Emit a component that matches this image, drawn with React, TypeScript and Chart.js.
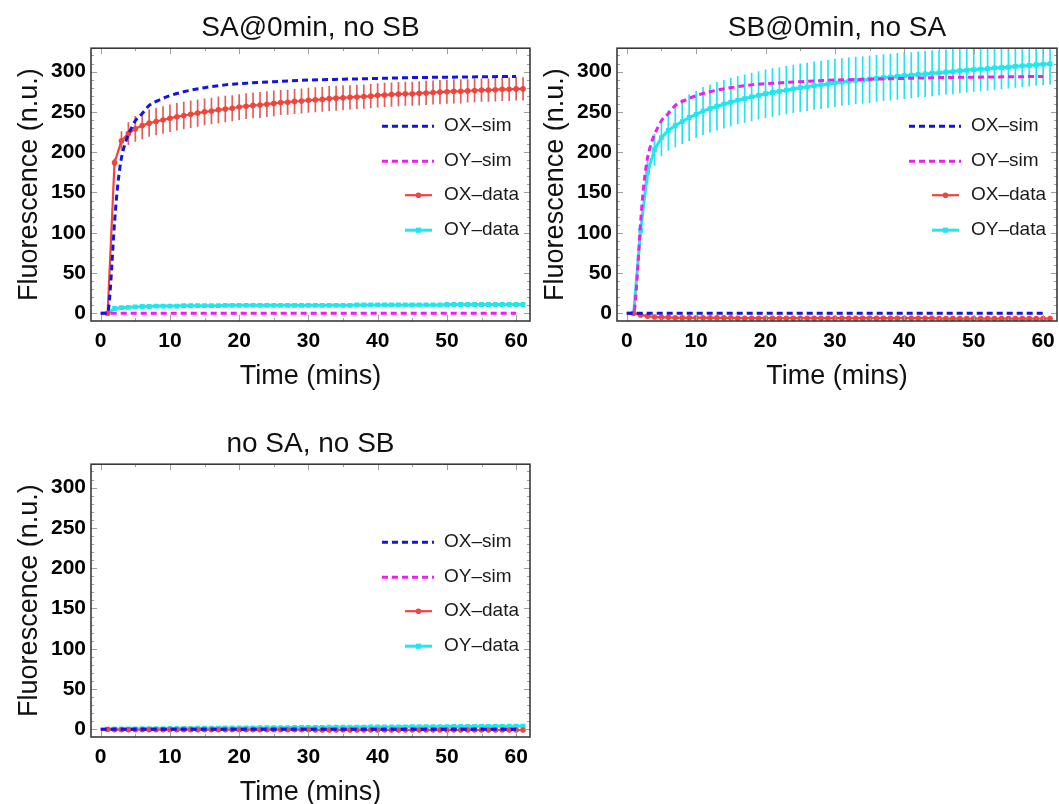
import React, { useEffect, useRef } from "react";
import { Chart, registerables } from "chart.js";

Chart.register(...registerables);

const FONT = "'Liberation Sans', Arial, Helvetica, sans-serif";

// ---------------- data ----------------
const timeData = [
  1, 2, 3, 4, 5, 6, 7, 8, 9, 10, 11, 12, 13, 14, 15, 16, 17, 18, 19, 20,
  21, 22, 23, 24, 25, 26, 27, 28, 29, 30, 31, 32, 33, 34, 35, 36, 37, 38, 39, 40,
  41, 42, 43, 44, 45, 46, 47, 48, 49, 50, 51, 52, 53, 54, 55, 56, 57, 58, 59, 60, 61,
];

const simRiseTime = [0, 1, 1.3, 1.6, 2, 2.5, 3, 3.5, 4, 4.5, 5, 6, 7, 8, 10, 12, 15, 18, 21, 25, 30, 35, 40, 45, 50, 55, 60];
const simRise = [0, 0, 20, 58, 113, 162, 193, 210, 222, 231, 239, 248, 258, 263, 270, 275, 280, 283.5, 285.5, 287.5, 289.5, 290.5, 291.5, 292.5, 293, 293.5, 294];
const simFlatTime = [0, 60];
const simFlat = [0, 0];

// Panel 1: SA@0min, no SB
const p1OX = [
  0, 187, 214, 223, 229, 233, 236, 238, 240, 242,
  244, 245.5, 247, 248.5, 250, 251, 252.5, 253.5, 254.5, 256,
  257, 258, 258.5, 259.5, 260.5, 261.5, 262, 263, 263.5, 264.5,
  265, 265.5, 266.5, 267, 267.5, 268, 268.5, 269, 269.5, 270.5,
  271, 271.5, 272, 272.5, 272.5, 273, 273.5, 274, 274.5, 275,
  275.5, 275.5, 276, 276.5, 277, 277, 277.5, 278, 278, 278.5,
  278.5,
];
const p1OXerr = [
  0, 5, 12, 14, 16, 17, 17, 17, 17, 17,
  17, 17, 17, 17, 16.5, 16.5, 16.5, 16.5, 16, 16,
  16, 16, 16, 16, 16, 15.5, 15.5, 15.5, 15.5, 15.5,
  15.5, 15.5, 15.5, 15.5, 15.5, 15, 15, 15, 15, 15,
  15, 15, 15, 15, 15, 15, 15, 15, 15, 15,
  15, 15, 14.5, 14.5, 14.5, 14.5, 14.5, 14.5, 14.5, 14.5,
  14.5,
];
const p1OY = [
  0, 6, 7, 7.5, 8, 8.5, 8.5, 9, 9, 9,
  9, 9.5, 9.5, 9.5, 9.5, 9.5, 9.5, 10, 10, 10,
  10, 10, 10, 10, 10, 10, 10, 10, 10, 10,
  10, 10, 10, 10, 10, 10, 10.5, 10.5, 10.5, 10.5,
  10.5, 10.5, 10.5, 10.5, 10.5, 10.5, 10.5, 10.5, 10.5, 11,
  11, 11, 11, 11, 11, 11, 11, 11, 11, 11,
  11,
];
const p1OYerr = [
  0, 1.5, 1.5, 1.5, 1.5, 1.5, 1.5, 1.5, 1.5, 1.5,
  1.5, 1.5, 1.5, 1.5, 1.5, 1.5, 1.5, 1.5, 1.5, 1.5,
  1.5, 1.5, 1.5, 1.5, 1.5, 1.5, 1.5, 1.5, 1.5, 1.5,
  1.5, 1.5, 1.5, 1.5, 1.5, 1.5, 1.5, 1.5, 1.5, 1.5,
  1.5, 1.5, 1.5, 1.5, 1.5, 1.5, 1.5, 1.5, 1.5, 1.5,
  1.5, 1.5, 1.5, 1.5, 1.5, 1.5, 1.5, 1.5, 1.5, 1.5,
  1.5,
];

// Panel 2: SB@0min, no SA
const p2OX = [
  0, -2, -3.5, -4.5, -5, -5, -5.5, -5.5, -5.5, -5.5,
  -5.5, -5.5, -5.5, -5.5, -5.5, -6, -6, -6, -6, -6,
  -6, -6, -6, -6, -6, -6, -6, -6, -6, -6,
  -6, -6, -6, -6, -6, -6, -6, -6, -6, -6,
  -6, -6, -6, -6, -6.5, -6.5, -6.5, -6.5, -6.5, -6.5,
  -6.5, -6.5, -6.5, -6.5, -6.5, -6.5, -6.5, -6.5, -6.5, -6.5,
  -6.5,
];
const p2OXerr = [
  0, 1, 1, 1, 1, 1, 1, 1, 1, 1,
  1, 1, 1, 1, 1, 1, 1, 1, 1, 1,
  1, 1, 1, 1, 1, 1, 1, 1, 1, 1,
  1, 1, 1, 1, 1, 1, 1, 1, 1, 1,
  1, 1, 1, 1, 1, 1, 1, 1, 1, 1,
  1, 1, 1, 1, 1, 1, 1, 1, 1, 1,
  1,
];
const p2OY = [
  0, 103, 175, 203, 218, 227, 233, 238, 243, 247,
  251, 254, 257, 259.5, 262, 264.5, 266.5, 268.5, 270.5, 272.5,
  274, 275.5, 277, 278.5, 280, 281, 282.5, 283.5, 284.5, 286,
  287, 288, 289, 289.5, 290.5, 291.5, 292.5, 293, 294, 295,
  295.5, 296.5, 297, 298, 298.5, 299.5, 300, 301, 301.5, 302.5,
  303, 303.5, 304.5, 305, 305.5, 306.5, 307, 307.5, 308.5, 309,
  309.5,
];
const p2OYerr = [
  0, 8, 14, 20, 23, 25, 27, 28, 29, 29,
  30, 30, 30, 30, 30, 30, 30, 30, 30, 30,
  30, 30, 30, 30, 30, 30, 30, 30, 30, 30,
  29.5, 29.5, 29.5, 29.5, 29.5, 29, 29, 29, 29, 29,
  28.5, 28.5, 28.5, 28.5, 28, 28, 28, 28, 27.5, 27.5,
  27.5, 27, 27, 27, 26.5, 26.5, 26.5, 26, 26, 26,
  25.5,
];

// Panel 3: no SA, no SB
const p3OX = [
  0, -0.3, -0.5, -0.5, -0.5, -0.5, -0.5, -0.5, -0.5, -0.5,
  -0.5, -0.5, -0.5, -0.5, -0.5, -0.5, -0.5, -0.5, -0.5, -0.5,
  -0.5, -0.5, -0.5, -0.5, -0.5, -0.5, -0.5, -0.5, -0.5, -0.5,
  -0.8, -0.8, -0.8, -0.8, -0.8, -0.8, -0.8, -0.8, -0.8, -0.8,
  -0.8, -0.8, -0.8, -0.8, -0.8, -0.8, -0.8, -0.8, -0.8, -0.8,
  -0.8, -0.8, -0.8, -0.8, -0.8, -0.8, -0.8, -0.8, -0.8, -0.8,
  -0.8,
];
const p3OXerr = [
  0, 0.5, 0.5, 0.5, 0.5, 0.5, 0.5, 0.5, 0.5, 0.5,
  0.5, 0.5, 0.5, 0.5, 0.5, 0.5, 0.5, 0.5, 0.5, 0.5,
  0.5, 0.5, 0.5, 0.5, 0.5, 0.5, 0.5, 0.5, 0.5, 0.5,
  0.5, 0.5, 0.5, 0.5, 0.5, 0.5, 0.5, 0.5, 0.5, 0.5,
  0.5, 0.5, 0.5, 0.5, 0.5, 0.5, 0.5, 0.5, 0.5, 0.5,
  0.5, 0.5, 0.5, 0.5, 0.5, 0.5, 0.5, 0.5, 0.5, 0.5,
  0.5,
];
const p3OY = [
  0, 0.3, 0.5, 0.6, 0.7, 0.8, 0.9, 1, 1, 1.1,
  1.2, 1.3, 1.3, 1.4, 1.5, 1.5, 1.6, 1.7, 1.7, 1.8,
  1.9, 1.9, 2, 2, 2.1, 2.2, 2.2, 2.3, 2.3, 2.4,
  2.5, 2.5, 2.6, 2.6, 2.7, 2.7, 2.8, 2.8, 2.9, 2.9,
  3, 3, 3.1, 3.1, 3.2, 3.2, 3.3, 3.3, 3.4, 3.4,
  3.5, 3.5, 3.6, 3.6, 3.7, 3.7, 3.8, 3.8, 3.9, 3.9,
  4,
];
const p3OYerr = [
  0, 0.8, 0.8, 0.8, 0.8, 0.8, 0.8, 0.8, 0.8, 0.8,
  0.8, 0.8, 0.8, 0.8, 0.8, 0.8, 0.8, 0.8, 0.8, 0.8,
  0.8, 0.8, 0.8, 0.8, 0.8, 0.8, 0.8, 0.8, 0.8, 0.8,
  0.8, 0.8, 0.8, 0.8, 0.8, 0.8, 0.8, 0.8, 0.8, 0.8,
  0.8, 0.8, 0.8, 0.8, 0.8, 0.8, 0.8, 0.8, 0.8, 0.8,
  0.8, 0.8, 0.8, 0.8, 0.8, 0.8, 0.8, 0.8, 0.8, 0.8,
  0.8,
];

const xTicks = [0, 10, 20, 30, 40, 50, 60];
const xMinorTicks = [5, 15, 25, 35, 45, 55];
const yTicks = [0, 50, 100, 150, 200, 250, 300];
const yMinorTicks = [10, 20, 30, 40, 60, 70, 80, 90, 110, 120, 130, 140, 160, 170, 180, 190, 210, 220, 230, 240, 260, 270, 280, 290, 310, 320];
const legendLabels = ["OX\u2013sim", "OY\u2013sim", "OX\u2013data", "OY\u2013data"];
const panelTitles = ["SA@0min, no SB", "SB@0min, no SA", "no SA, no SB"];
const xAxisTitle = "Time (mins)";
const yAxisTitle = "Fluorescence (n.u.)";

const X_MIN = -1.4;
const X_MAX = 62;
const Y_MIN = -9.5;
const Y_MAX = 329;

// ---------------- styles ----------------
const BLUE = "#1414e0";
const MAGENTA = "#f01cf0";
const RED = "#f0453c";
const RED_ERR = "rgba(222, 78, 72, 0.9)";
const CYAN = "#22e6ee";

const pts = (xs: number[], ys: number[]) => xs.map((x, i) => ({ x, y: ys[i] }));

function simDataset(label: string, xs: number[], ys: number[], color: string) {
  return {
    label,
    data: pts(xs, ys),
    borderColor: color,
    backgroundColor: color,
    borderWidth: 3,
    borderDash: [6, 4],
    pointRadius: 0,
    cubicInterpolationMode: "monotone",
    kind: "sim",
  };
}

function dataDataset(label: string, ys: number[], errs: number[], color: string, errColor: string, style: string) {
  return {
    label,
    data: pts(timeData, ys),
    errors: errs,
    errorColor: errColor,
    borderColor: color,
    backgroundColor: color,
    borderWidth: style === "rect" ? 3 : 2.2,
    pointRadius: style === "rect" ? 3.4 : 2.8,
    pointStyle: style,
    pointBorderWidth: 0,
    kind: "data",
  };
}

// ---------------- plugins ----------------
const errorBarPlugin = {
  id: "errorBars",
  beforeDatasetsDraw(chart: any) {
    const { ctx, chartArea: a, scales } = chart;
    const xs = scales.x;
    const ys = scales.y;
    ctx.save();
    ctx.beginPath();
    ctx.rect(a.left, a.top, a.right - a.left, a.bottom - a.top);
    ctx.clip();
    chart.data.datasets.forEach((ds: any) => {
      if (!ds.errors) return;
      ctx.strokeStyle = ds.errorColor;
      ctx.lineWidth = 1.7;
      ds.data.forEach((p: any, j: number) => {
        const e = ds.errors[j];
        if (!e) return;
        const px = xs.getPixelForValue(p.x);
        ctx.beginPath();
        ctx.moveTo(px, ys.getPixelForValue(p.y - e));
        ctx.lineTo(px, ys.getPixelForValue(p.y + e));
        ctx.stroke();
      });
    });
    ctx.restore();
  },
};

const framePlugin = {
  id: "frame",
  afterDatasetsDraw(chart: any) {
    const { ctx, chartArea: a, scales } = chart;
    const xs = scales.x;
    const ys = scales.y;
    ctx.save();
    ctx.strokeStyle = "#a0a0a0";
    ctx.lineWidth = 1;
    const tickX = (v: number, len: number) => {
      const px = Math.round(xs.getPixelForValue(v)) + 0.5;
      ctx.beginPath();
      ctx.moveTo(px, a.bottom);
      ctx.lineTo(px, a.bottom - len);
      ctx.moveTo(px, a.top);
      ctx.lineTo(px, a.top + len);
      ctx.stroke();
    };
    const tickY = (v: number, len: number) => {
      const py = Math.round(ys.getPixelForValue(v)) + 0.5;
      ctx.beginPath();
      ctx.moveTo(a.left, py);
      ctx.lineTo(a.left + len, py);
      ctx.moveTo(a.right, py);
      ctx.lineTo(a.right - len, py);
      ctx.stroke();
    };
    xTicks.forEach((v) => tickX(v, 6));
    xMinorTicks.forEach((v) => tickX(v, 3));
    yTicks.forEach((v) => tickY(v, 6));
    yMinorTicks.forEach((v) => tickY(v, 3));
    ctx.strokeStyle = "#3a3a3a";
    ctx.lineWidth = 1.6;
    ctx.strokeRect(a.left, a.top, a.right - a.left, a.bottom - a.top);
    ctx.restore();
  },
};

const legendRowOffsets = [78, 113, 147, 182];

const legendPlugin = {
  id: "insetLegend",
  afterDraw(chart: any) {
    const { ctx, chartArea: a } = chart;
    ctx.save();
    ctx.font = `19px ${FONT}`;
    ctx.textBaseline = "middle";
    ctx.textAlign = "left";
    chart.data.datasets.forEach((ds: any, i: number) => {
      const y = a.top + legendRowOffsets[i];
      ctx.strokeStyle = ds.borderColor;
      ctx.fillStyle = ds.borderColor;
      if (ds.kind === "sim") {
        ctx.lineWidth = 3;
        ctx.setLineDash([6, 4]);
        ctx.beginPath();
        ctx.moveTo(a.right - 148, y);
        ctx.lineTo(a.right - 96, y);
        ctx.stroke();
        ctx.setLineDash([]);
      } else {
        ctx.lineWidth = ds.borderWidth;
        ctx.beginPath();
        ctx.moveTo(a.right - 125, y);
        ctx.lineTo(a.right - 98, y);
        ctx.stroke();
        const cx = a.right - 111.5;
        if (ds.pointStyle === "rect") {
          ctx.fillRect(cx - 2.6, y - 2.6, 5.2, 5.2);
        } else {
          ctx.beginPath();
          ctx.arc(cx, y, 2.8, 0, Math.PI * 2);
          ctx.fill();
        }
      }
      ctx.fillStyle = "#1a1a1a";
      ctx.fillText(legendLabels[i], a.right - 86, y);
    });
    ctx.restore();
  },
};

function makeConfig(title: string, datasets: any[], rightPad: number) {
  return {
    type: "line",
    data: { datasets },
    options: {
      animation: false,
      responsive: false,
      devicePixelRatio: 1,
      layout: { padding: { left: 0, top: 0, right: rightPad, bottom: 0 } },
      plugins: {
        legend: { display: false },
        tooltip: { enabled: false },
        title: {
          display: true,
          fullSize: false,
          text: title,
          color: "#111",
          font: { family: FONT, size: 28, weight: "normal" },
          padding: { top: 11.8, bottom: 2.8 },
        },
      },
      scales: {
        x: {
          type: "linear",
          min: X_MIN,
          max: X_MAX,
          afterFit: (s: any) => {
            s.height = 79;
          },
          afterBuildTicks: (s: any) => {
            s.ticks = xTicks.map((v) => ({ value: v }));
          },
          grid: { display: false, drawTicks: false },
          border: { display: false },
          ticks: {
            color: "#000",
            font: { family: FONT, size: 21, weight: "bold" },
            padding: 8,
            maxRotation: 0,
            autoSkip: false,
          },
          title: {
            display: true,
            text: xAxisTitle,
            color: "#111",
            font: { family: FONT, size: 27, weight: "normal" },
            padding: { top: 0, bottom: 6.8 },
          },
        },
        y: {
          type: "linear",
          min: Y_MIN,
          max: Y_MAX,
          afterFit: (s: any) => {
            s.width = 91;
          },
          afterBuildTicks: (s: any) => {
            s.ticks = yTicks.map((v) => ({ value: v }));
          },
          grid: { display: false, drawTicks: false },
          border: { display: false },
          ticks: {
            color: "#000",
            font: { family: FONT, size: 21, weight: "bold" },
            padding: 5,
            autoSkip: false,
          },
          title: {
            display: true,
            text: yAxisTitle,
            color: "#111",
            font: { family: FONT, size: 27, weight: "normal" },
            padding: { top: 13.5, bottom: 0 },
          },
        },
      },
    },
    plugins: [errorBarPlugin, framePlugin, legendPlugin],
  };
}

function Panel(props: { left: number; top: number; width: number; height: number; config: () => any }) {
  const ref = useRef<HTMLCanvasElement | null>(null);
  useEffect(() => {
    if (!ref.current) return;
    const chart = new Chart(ref.current, props.config() as any);
    return () => chart.destroy();
  }, []);
  return (
    <canvas
      ref={ref}
      width={props.width}
      height={props.height}
      style={{ position: "absolute", left: props.left, top: props.top, width: props.width, height: props.height }}
    />
  );
}

export default function App() {
  const cfg1 = () =>
    makeConfig(
      panelTitles[0],
      [
        simDataset(legendLabels[0], simRiseTime, simRise, BLUE),
        simDataset(legendLabels[1], simFlatTime, simFlat, MAGENTA),
        dataDataset(legendLabels[2], p1OX, p1OXerr, RED, RED_ERR, "circle"),
        dataDataset(legendLabels[3], p1OY, p1OYerr, CYAN, CYAN, "rect"),
      ],
      6
    );
  const cfg2 = () =>
    makeConfig(
      panelTitles[1],
      [
        simDataset(legendLabels[0], simFlatTime, simFlat, BLUE),
        simDataset(legendLabels[1], simRiseTime, simRise, MAGENTA),
        dataDataset(legendLabels[2], p2OX, p2OXerr, RED, RED_ERR, "circle"),
        dataDataset(legendLabels[3], p2OY, p2OYerr, CYAN, CYAN, "rect"),
      ],
      6
    );
  const cfg3 = () =>
    makeConfig(
      panelTitles[2],
      [
        simDataset(legendLabels[0], simFlatTime, simFlat, BLUE),
        simDataset(legendLabels[1], simFlatTime, simFlat, MAGENTA),
        dataDataset(legendLabels[2], p3OX, p3OXerr, RED, RED_ERR, "circle"),
        dataDataset(legendLabels[3], p3OY, p3OYerr, CYAN, CYAN, "rect"),
      ],
      6
    );
  return (
    <div
      style={{
        position: "absolute",
        left: 0,
        top: 0,
        width: 1059,
        height: 804,
        overflow: "hidden",
        background: "#fff",
      }}
    >
      <Panel left={0} top={0} width={536} height={400} config={cfg1} />
      <Panel left={526} top={0} width={537} height={400} config={cfg2} />
      <Panel left={0} top={416} width={536} height={400} config={cfg3} />
    </div>
  );
}
